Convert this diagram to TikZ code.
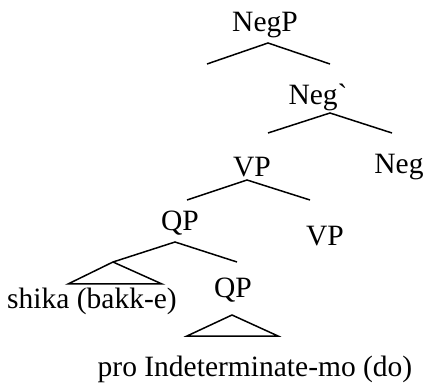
\documentclass[tikz,border=0pt]{standalone}
\usepackage{fontspec}
\setmainfont{Liberation Serif}[Ligatures=TeXOff]
\begin{document}
\begin{tikzpicture}[x=1pt,y=-1pt,
  lbl/.style={inner sep=0pt,font=\fontsize{29.5}{32}\selectfont},
  branch/.style={line width=1.5pt}]
\useasboundingbox (0,0) rectangle (426,390);
% labels
\node[lbl] (negp) at (265,25) {NegP};
\node[lbl] (negbar) at (318,97) {Neg`};
\node[lbl] (vp1) at (252,167) {VP};
\node[lbl] (neg) at (399,167) {Neg};
\node[lbl] (qp1) at (180,223) {QP};
\node[lbl] (vp2) at (325,236) {VP};
\node[lbl] (shika) at (92,301) {shika (bakk-e)};
\node[lbl] (qp2) at (233,290) {QP};
\node[lbl] (pro) at (255,369) {pro Indeterminate-mo (do)};
% branch points
\coordinate (a1) at (268,43);
\coordinate (a1l) at (207,64);
\coordinate (a1r) at (330,64);
\coordinate (a2) at (330,113);
\coordinate (a2l) at (268,133);
\coordinate (a2r) at (392,133);
\coordinate (a3) at (247,180);
\coordinate (a3l) at (187,200);
\coordinate (a3r) at (310,200);
\coordinate (a4) at (175,242);
\coordinate (a4l) at (113,262);
\coordinate (a4r) at (237,262);
\coordinate (t1l) at (68,284);
\coordinate (t1r) at (162,284);
\coordinate (t2) at (232,315);
\coordinate (t2l) at (187,336);
\coordinate (t2r) at (278,336);
% branches
\draw[branch] (a1l) -- (a1) -- (a1r);
\draw[branch] (a2l) -- (a2) -- (a2r);
\draw[branch] (a3l) -- (a3) -- (a3r);
\draw[branch] (a4l) -- (a4) -- (a4r);
\draw[branch] (a4l) -- (t1l) -- (t1r) -- cycle;
\draw[branch] (t2) -- (t2l) -- (t2r) -- cycle;
\end{tikzpicture}
\end{document}
